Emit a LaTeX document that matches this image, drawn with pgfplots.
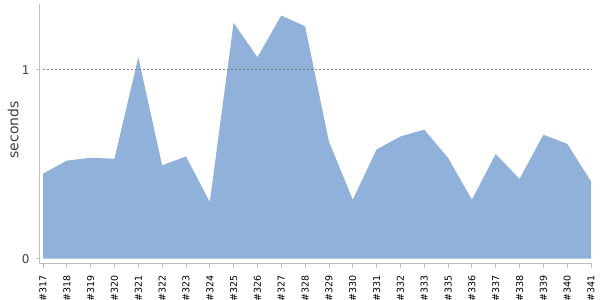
\documentclass[border=0pt]{standalone}
\usepackage{fontspec}
\setmainfont{DejaVu Sans}
\usepackage{pgfplots}
\pgfplotsset{compat=1.18}
\definecolor{areafill}{HTML}{8FB1DA}
\definecolor{axisgray}{HTML}{BFBFBF}
\definecolor{txtgray}{HTML}{404040}
\begin{document}
\begin{tikzpicture}
\useasboundingbox (-39bp,-37bp) rectangle (561bp,263bp);
\begin{axis}[
  scale only axis,
  width=552.5bp, height=259bp,
  xmin=-0.168, xmax=23.02,
  ymin=-0.023, ymax=1.348,
  axis lines=left,
  axis line style={-, draw=axisgray, line width=0.8bp},
  tick style={draw=axisgray, line width=0.8bp},
  tick align=outside,
  xtick={0,...,23},
  xticklabels={\#317,\#318,\#319,\#320,\#321,\#322,\#323,\#324,\#325,\#326,\#327,\#328,\#329,\#330,\#331,\#332,\#333,\#335,\#336,\#337,\#338,\#339,\#340,\#341},
  xtick style={/pgfplots/major tick length=5bp},
  ytick style={/pgfplots/major tick length=3bp},
  ytick={0,1},
  minor tick num=0,
  /pgf/number format/assume math mode=true,
  xticklabel style={rotate=90, anchor=east, font=\fontsize{9.5bp}{10bp}\selectfont, text=black, inner sep=0pt, xshift=-8bp},
  yticklabel style={font=\fontsize{12bp}{13bp}\selectfont, text=txtgray, inner sep=0pt, xshift=-5bp},
  ylabel={seconds},
  ylabel style={at={(axis description cs:-0.047,0.514)}, anchor=center, font=\fontsize{14bp}{15bp}\selectfont, text=txtgray},
  clip=false,
]
\addplot[fill=areafill, draw=none] coordinates {
(0,0.450) (1,0.519) (2,0.534) (3,0.529) (4,1.066) (5,0.494) (6,0.541) (7,0.300)
(8,1.248) (9,1.066) (10,1.287) (11,1.230) (12,0.620) (13,0.312) (14,0.578) (15,0.647)
(16,0.683) (17,0.533) (18,0.312) (19,0.554) (20,0.422) (21,0.656) (22,0.608) (23,0.409)
} \closedcycle;
\draw[gray, line width=0.7bp, dash pattern=on 2bp off 2bp] (axis cs:0,1) -- (axis cs:23,1);
\end{axis}
\end{tikzpicture}
\end{document}
